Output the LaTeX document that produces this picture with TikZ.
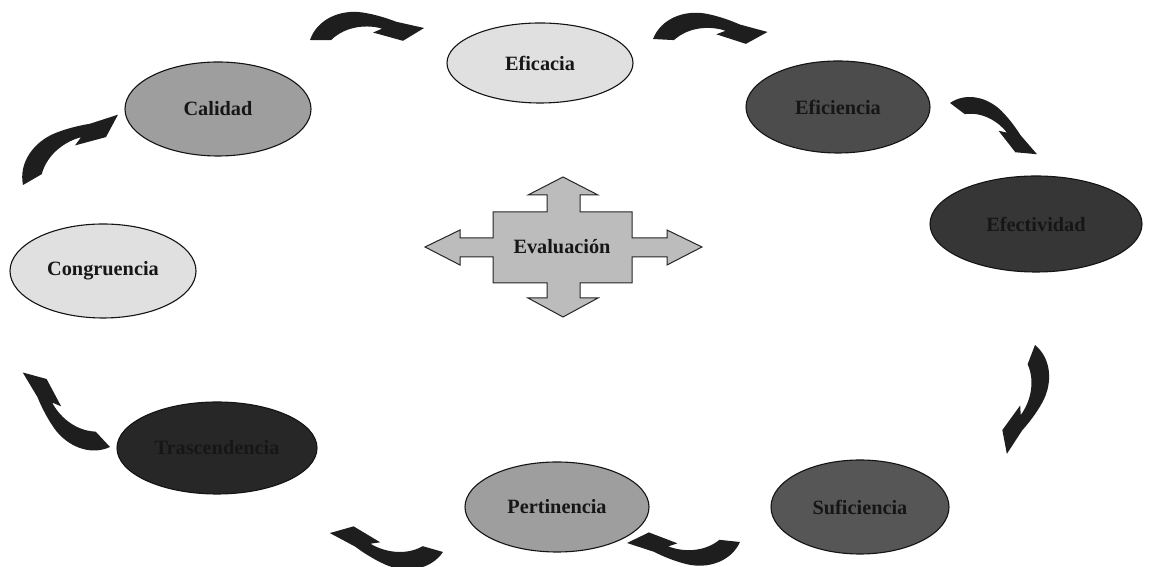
\documentclass[tikz,border=0pt]{standalone}
\usepackage{fontspec}
\setmainfont{Liberation Serif}
\usetikzlibrary{shapes.geometric}

\definecolor{inkdark}{HTML}{161616}
\definecolor{arrowfill}{HTML}{1E1E1E}
\definecolor{lightgrey}{HTML}{E0E0E0}
\definecolor{midgrey}{HTML}{9E9E9E}
\definecolor{crossgrey}{HTML}{BCBCBC}
\definecolor{darkA}{HTML}{4C4C4C}
\definecolor{darkB}{HTML}{363636}
\definecolor{darkC}{HTML}{565656}
\definecolor{darkD}{HTML}{272727}

\begin{document}
\begin{tikzpicture}[x=1pt,y=1pt,
  oval/.style={ellipse, draw=black!92, line width=1.1pt, inner sep=0pt,
    font=\fontsize{20.3}{24}\selectfont\bfseries, text=inkdark},
  bend arrow/.pic={
    \fill[arrowfill]
      (0,0) .. controls (7,21) and (30,31) .. (52,28)
            .. controls (66,26) and (78,22) .. (86,19)
      -- (114,13) -- (93,0) -- (63,8) -- (72,12)
      .. controls (58,16) and (36,15) .. (21,0) -- cycle;
  }]
\useasboundingbox (0,0) rectangle (1149,567);
\fill[white] (0,0) rectangle (1149,567);

% criteria around the cycle
\node[oval, fill=lightgrey, minimum width=186, minimum height=80]  (eficacia)      at (540,504) {Eficacia};
\node[oval, fill=darkA,     minimum width=184, minimum height=92]  (eficiencia)    at (838,460) {Eficiencia};
\node[oval, fill=darkB,     minimum width=212, minimum height=96]  (efectividad)   at (1036,343) {Efectividad};
\node[oval, fill=darkC,     minimum width=178, minimum height=94]  (suficiencia)   at (860,60)  {Suficiencia};
\node[oval, fill=midgrey,   minimum width=184, minimum height=90]  (pertinencia)   at (557,60)  {Pertinencia};
\node[oval, fill=darkD,     minimum width=200, minimum height=92]  (trascendencia) at (217,119) {Trascendencia};
\node[oval, fill=lightgrey, minimum width=186, minimum height=94]  (congruencia)   at (103,296) {Congruencia};
\node[oval, fill=midgrey,   minimum width=186, minimum height=94]  (calidad)       at (218,458) {Calidad};

% central four-way arrow
\filldraw[fill=crossgrey, draw=black!85, line width=1pt]
  (563,390) -- (598,372) -- (580,372) -- (580,355) -- (632,355) -- (632,329)
  -- (667,329) -- (667,337) -- (702,320) -- (667,302) -- (667,310) -- (632,310)
  -- (632,284) -- (580,284) -- (580,269) -- (598,269) -- (563,250) -- (528,269)
  -- (547,269) -- (547,284) -- (493,284) -- (493,310) -- (460,310) -- (460,302)
  -- (425,320) -- (460,337) -- (460,329) -- (493,329) -- (493,355) -- (547,355)
  -- (547,372) -- (528,372) -- cycle;
\node[font=\fontsize{20.3}{24}\selectfont\bfseries, text=inkdark] (evaluacion) at (562,320) {Evaluación};

% curved arrows between consecutive criteria
\pic[rotate=-0.5, scale=1.0]  at (310,527) {bend arrow};
\pic[rotate=-3,   scale=1.0]  at (653,528) {bend arrow};
\pic[rotate=-37,  scale=0.88] at (950,464) {bend arrow};
\pic[rotate=-111, scale=0.98] at (1035,222) {bend arrow};
\pic[rotate=174,  scale=0.985] at (740,25) {bend arrow};
\pic[rotate=164,  scale=1.0]  at (443,15) {bend arrow};
\pic[rotate=133,  scale=1.0]  at (110,120) {bend arrow};
\pic[rotate=30,   scale=1.03] at (23,382) {bend arrow};
\end{tikzpicture}
\end{document}
